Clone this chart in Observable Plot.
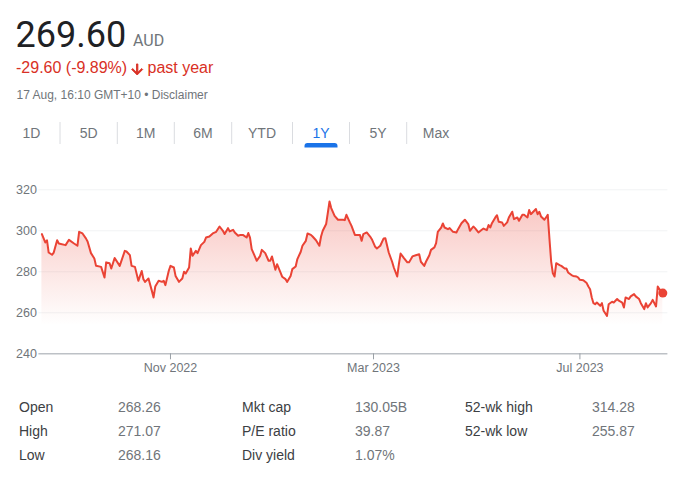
<!DOCTYPE html>
<html><head><meta charset="utf-8">
<script src="https://cdn.jsdelivr.net/npm/d3@7"></script>
<script src="https://cdn.jsdelivr.net/npm/@observablehq/plot@0.6"></script>
<style>
html,body{margin:0;padding:0;background:#fff;}
#page{position:relative;width:684px;height:478px;overflow:hidden;}
#overlay{position:absolute;left:0;top:0;}
#chart{position:absolute;left:0;top:175px;}
</style></head>
<body><div id="page"><svg id="overlay" width="684" height="478"></svg><div id="chart"></div></div>
<script>
// ---- data ----
const dates = [
"2022-08-17","2022-08-19","2022-08-20","2022-08-21","2022-08-23","2022-08-24","2022-08-26","2022-08-27","2022-08-31",
"2022-09-02","2022-09-05","2022-09-07","2022-09-08","2022-09-10","2022-09-12","2022-09-13","2022-09-15","2022-09-17","2022-09-18","2022-09-21","2022-09-23","2022-09-24","2022-09-26","2022-09-27","2022-09-29",
"2022-10-02","2022-10-05","2022-10-06","2022-10-08","2022-10-09","2022-10-11","2022-10-13","2022-10-15","2022-10-16","2022-10-17","2022-10-19","2022-10-21","2022-10-22","2022-10-23","2022-10-25","2022-10-27","2022-10-28","2022-10-29","2022-10-31",
"2022-11-01","2022-11-03","2022-11-04","2022-11-06","2022-11-08","2022-11-09","2022-11-10","2022-11-12","2022-11-13","2022-11-14","2022-11-16","2022-11-17","2022-11-19","2022-11-21","2022-11-22","2022-11-24","2022-11-26","2022-11-28","2022-11-30",
"2022-12-02","2022-12-03","2022-12-05","2022-12-06","2022-12-08","2022-12-09","2022-12-11","2022-12-12","2022-12-14","2022-12-16","2022-12-17","2022-12-18","2022-12-19","2022-12-21","2022-12-22","2022-12-24","2022-12-25","2022-12-27","2022-12-29","2022-12-30","2022-12-31",
"2023-01-02","2023-01-03","2023-01-05","2023-01-06","2023-01-08","2023-01-09","2023-01-11","2023-01-12","2023-01-14","2023-01-15","2023-01-17","2023-01-18","2023-01-20","2023-01-21","2023-01-23","2023-01-24","2023-01-26","2023-01-28","2023-01-29","2023-01-30",
"2023-02-01","2023-02-03","2023-02-04","2023-02-06","2023-02-08","2023-02-11","2023-02-12","2023-02-13","2023-02-15","2023-02-16","2023-02-18","2023-02-19","2023-02-21","2023-02-22","2023-02-23","2023-02-25","2023-02-27","2023-02-28",
"2023-03-02","2023-03-03","2023-03-05","2023-03-07","2023-03-08","2023-03-10","2023-03-12","2023-03-13","2023-03-15","2023-03-16","2023-03-17","2023-03-19","2023-03-21","2023-03-22","2023-03-24","2023-03-26","2023-03-28","2023-03-29","2023-03-31",
"2023-04-01","2023-04-03","2023-04-04","2023-04-06","2023-04-07","2023-04-08","2023-04-10","2023-04-11","2023-04-12","2023-04-14","2023-04-15","2023-04-17","2023-04-19","2023-04-20","2023-04-22","2023-04-24","2023-04-26","2023-04-27","2023-04-29","2023-04-30",
"2023-05-02","2023-05-04","2023-05-05","2023-05-07","2023-05-08","2023-05-09","2023-05-10","2023-05-12","2023-05-13","2023-05-14","2023-05-16","2023-05-17","2023-05-19","2023-05-20","2023-05-22","2023-05-23","2023-05-25","2023-05-26","2023-05-28","2023-05-29","2023-05-31",
"2023-06-01","2023-06-02","2023-06-04","2023-06-05","2023-06-06","2023-06-07","2023-06-08","2023-06-10","2023-06-11","2023-06-12","2023-06-13","2023-06-14","2023-06-15","2023-06-16","2023-06-17","2023-06-19","2023-06-20","2023-06-22","2023-06-23","2023-06-24","2023-06-26","2023-06-27","2023-06-29","2023-06-30",
"2023-07-01","2023-07-03","2023-07-05","2023-07-06","2023-07-07","2023-07-08","2023-07-09","2023-07-10","2023-07-11","2023-07-13","2023-07-14","2023-07-15","2023-07-17","2023-07-18","2023-07-20","2023-07-21","2023-07-23","2023-07-24","2023-07-26","2023-07-27","2023-07-28","2023-07-30","2023-07-31",
"2023-08-02","2023-08-03","2023-08-05","2023-08-06","2023-08-08","2023-08-09","2023-08-10","2023-08-12","2023-08-13","2023-08-15","2023-08-16","2023-08-17","2023-08-19"
];
const prices = [
298.4,294.3,295.4,289.4,288.3,289.4,295.4,293.8,293.0,
295.6,293.8,292.7,299.5,298.7,296.3,294.8,289.1,286.5,282.9,282.4,277.2,284.6,284.2,281.6,286.7,
282.9,290.2,289.9,288.1,282.9,282.4,275.6,280.4,276.4,275.1,276.7,270.7,267.5,272.8,275.6,275.1,275.6,273.5,280.5,
282.9,282.1,278.0,275.1,276.7,280.0,279.2,282.1,291.4,287.8,290.2,289.1,293.0,294.6,296.7,297.2,298.7,299.5,302.1,
300.0,298.4,301.3,299.7,300.5,299.2,297.6,297.9,297.9,296.7,298.9,296.7,291.1,287.3,285.4,287.8,290.7,289.1,285.4,285.4,287.5,
281.0,283.7,279.7,277.6,276.4,275.1,278.0,281.3,282.6,286.2,289.8,292.7,295.1,298.7,298.0,297.2,295.4,292.7,297.2,300.0,
303.3,314.3,311.1,307.3,305.4,305.4,305.2,307.8,304.1,302.4,298.0,298.0,297.9,295.1,298.4,299.2,297.2,295.9,
292.2,291.4,292.7,296.3,296.4,289.4,284.9,282.1,277.7,283.7,288.9,286.7,284.6,284.6,287.5,288.1,288.6,284.9,282.9,
284.9,288.1,290.7,291.9,294.0,299.5,301.6,303.6,301.6,300.8,301.3,299.5,299.2,300.8,303.7,305.4,303.3,300.0,302.1,301.3,
299.2,300.5,301.1,300.3,302.8,301.6,303.7,306.5,307.6,304.4,304.1,302.4,304.1,306.5,309.3,305.7,306.5,304.9,307.8,307.8,306.5,
310.1,308.1,309.8,310.6,308.1,309.3,307.0,305.4,306.5,307.8,296.0,285.0,279.3,277.7,284.2,283.3,282.9,281.6,281.6,279.7,278.4,278.0,277.7,277.2,
276.1,275.9,274.5,272.8,271.5,267.5,264.7,264.2,265.0,263.4,264.7,261.0,258.5,264.2,265.4,265.0,266.7,265.9,265.0,262.6,267.5,266.7,268.0,
269.1,268.0,266.7,264.7,261.8,264.7,262.6,264.7,266.3,263.1,272.8,271.5,269.6
];
const yTicks = [240, 260, 280, 300, 320];
const xTickDates = ["2022-11-01", "2023-03-01", "2023-07-01"];
const xTickLabels = ["Nov 2022", "Mar 2023", "Jul 2023"];

const priceText = "269.60";
const currencyText = "AUD";
const changeText = "-29.60 (-9.89%)";
const periodText = "past year";
const stampText = "17 Aug, 16:10 GMT+10 • Disclaimer";
const tabs = ["1D", "5D", "1M", "6M", "YTD", "1Y", "5Y", "Max"];
const activeTab = "1Y";
const statLabels = ["Open", "High", "Low", "Mkt cap", "P/E ratio", "Div yield", "52-wk high", "52-wk low"];
const statValues = ["268.26", "271.07", "268.16", "130.05B", "39.87", "1.07%", "314.28", "255.87"];

// ---- header, tabs, stats (overlay) ----
const SANS = '"Liberation Sans", Arial, sans-serif';
const ov = d3.select("#overlay");
ov.append("text").attr("x", 15.5).attr("y", 47.3).attr("font-family", "Roboto, sans-serif")
  .attr("font-size", 36).attr("fill", "#202124").text(priceText);
ov.append("text").attr("x", 133).attr("y", 45.7).attr("font-family", "Roboto, sans-serif")
  .attr("font-size", 16).attr("fill", "#70757a").text(currencyText);
ov.append("text").attr("x", 16).attr("y", 72.5).attr("font-family", SANS)
  .attr("font-size", 16).attr("fill", "#d93025").text(changeText);
ov.append("path").attr("transform", "translate(128.9,61.2) scale(0.69)")
  .attr("d", "M20 12l-1.41-1.41L13 16.17V4h-2v12.17l-5.58-5.59L4 12l8 8 8-8z")
  .attr("fill", "#d93025").attr("stroke", "#d93025").attr("stroke-width", 1.3).attr("stroke-linejoin", "round");
ov.append("text").attr("x", 147.5).attr("y", 72.5).attr("font-family", SANS)
  .attr("font-size", 16).attr("fill", "#d93025").text(periodText);
ov.append("text").attr("x", 16.5).attr("y", 99.3).attr("font-family", SANS)
  .attr("font-size", 12).attr("fill", "#70757a").text(stampText);

const tabCenters = [31.5, 88.7, 145.8, 203, 262, 321, 378, 436];
const sepX = [60, 117.3, 174.3, 231.7, 292.5, 349.5, 406.7];
sepX.forEach(x => ov.append("line").attr("x1", x).attr("x2", x).attr("y1", 122).attr("y2", 144)
  .attr("stroke", "#dadce0").attr("stroke-width", 1));
tabs.forEach((t, i) => ov.append("text").attr("x", tabCenters[i]).attr("y", 138.3)
  .attr("text-anchor", "middle").attr("font-family", SANS).attr("font-size", 14)
  .attr("fill", t === activeTab ? "#1a73e8" : "#70757a").text(t));
const ai = tabs.indexOf(activeTab);
const ux = tabCenters[ai] - 16.5;
ov.append("path").attr("d", `M${ux},147.5 V146 a3,3 0 0 1 3,-3 H${ux + 30} a3,3 0 0 1 3,3 V147.5 Z`).attr("fill", "#1a73e8");

const colLabelX = [19, 242, 465];
const colValueX = [118, 355, 592];
const rowY = [412, 436, 460];
statLabels.forEach((lab, i) => {
  const c = Math.floor(i / 3), r = i % 3;
  ov.append("text").attr("x", colLabelX[c]).attr("y", rowY[r]).attr("font-family", SANS)
    .attr("font-size", 14).attr("fill", "#3c4043").text(lab);
  ov.append("text").attr("x", colValueX[c]).attr("y", rowY[r]).attr("font-family", SANS)
    .attr("font-size", 14).attr("fill", "#70757a").text(statValues[i]);
});

// ---- chart ----
const data = dates.map((d, i) => ({date: new Date(d), price: prices[i]}));
const last = data[data.length - 1];
const labelByTime = new Map(xTickDates.map((d, i) => [+new Date(d), xTickLabels[i]]));

const svg = Plot.plot({
  width: 684, height: 205,
  marginTop: 14.3, marginBottom: 26.7, marginLeft: 41.4, marginRight: 16.6,
  style: {fontFamily: SANS, fontSize: "12px", color: "#70757a", background: "transparent"},
  x: {type: "utc", domain: [new Date("2022-08-17"), new Date("2023-08-22")], label: null},
  y: {domain: [240, 320], label: null},
  marks: [
    Plot.ruleY(yTicks.slice(1), {stroke: "#f1f3f4", strokeWidth: 1, insetLeft: -3}),
    Plot.areaY(data, {x: "date", y1: 240, y2: "price", fill: "url(#priceFade)"}),
    Plot.ruleY([240], {stroke: "#bdc1c6", strokeWidth: 1.5, insetLeft: -3}),
    Plot.lineY(data, {x: "date", y: "price", stroke: "#ea4335", strokeWidth: 2}),
    Plot.dot([last], {x: "date", y: "price", r: 4.5, fill: "#ea4335"}),
    Plot.axisY(yTicks, {tickSize: 0, tickPadding: 5, fill: "#70757a", fontSize: 12.5, label: null}),
    Plot.axisX(xTickDates.map(d => new Date(d)), {tickSize: 6, tickPadding: 3.5, stroke: "#9aa0a6",
      fill: "#70757a", fontSize: 12.5, label: null, tickFormat: d => labelByTime.get(+d)})
  ]
});
const grad = d3.select(svg).insert("defs", ":first-child").append("linearGradient")
  .attr("id", "priceFade").attr("gradientUnits", "userSpaceOnUse")
  .attr("x1", 0).attr("x2", 0).attr("y1", 28).attr("y2", 150);
grad.append("stop").attr("offset", 0).attr("stop-color", "#ea4335").attr("stop-opacity", 0.3);
grad.append("stop").attr("offset", 1).attr("stop-color", "#ea4335").attr("stop-opacity", 0);
document.getElementById("chart").appendChild(svg);
</script>
</body></html>
